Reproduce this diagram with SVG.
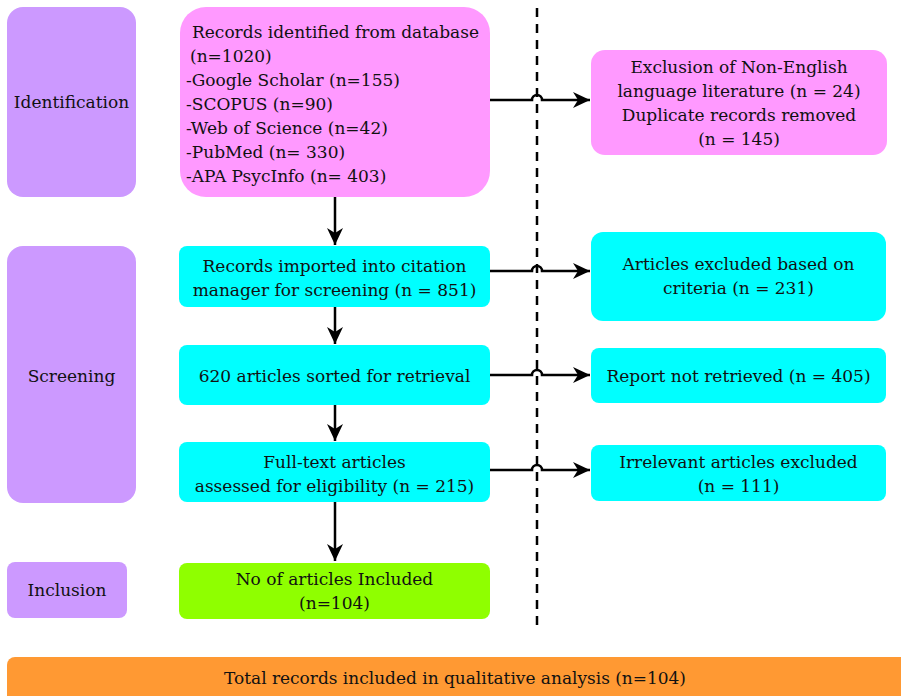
<svg xmlns="http://www.w3.org/2000/svg" width="901" height="696" viewBox="0 0 901 696">
  <defs>
    <marker id="arrow" markerUnits="userSpaceOnUse" markerWidth="18" markerHeight="16" refX="17" refY="8" orient="auto">
      <path d="M0,0 L17,8 L0,16 L5,8 Z" fill="#000"/>
    </marker>
    <style>
      text { font-family: "DejaVu Serif", "Liberation Serif", serif; font-size: 17px; fill: #111; }
      .c { text-anchor: middle; }
      .stage { fill: #CC99FF; }
      .pink { fill: #FF99FF; }
      .cyan { fill: #00FFFF; }
      .green { fill: #8FFF00; }
      .orange { fill: #FF9933; }
      .flow { fill: none; stroke: #000; stroke-width: 2.5; marker-end: url(#arrow); }
      .divider { fill: none; stroke: #000; stroke-width: 2.5; stroke-dasharray: 9 7; }
    </style>
  </defs>

  <rect width="901" height="696" fill="#fff"/>

  <!-- stage labels -->
  <g id="stage-identification">
    <rect class="stage" x="7" y="7" width="129" height="190" rx="16"/>
    <text class="c" x="71.5" y="108">Identification</text>
  </g>
  <g id="stage-screening">
    <rect class="stage" x="7" y="246" width="129" height="257" rx="16"/>
    <text class="c" x="71.5" y="382">Screening</text>
  </g>
  <g id="stage-inclusion">
    <rect class="stage" x="7" y="562" width="120" height="56" rx="8"/>
    <text class="c" x="67" y="596">Inclusion</text>
  </g>

  <!-- main flow -->
  <g id="records-identified">
    <rect class="pink" x="180" y="7" width="310" height="190" rx="26"/>
    <text x="192" y="38">Records identified from database</text>
    <text x="190" y="62">(n=1020)</text>
    <text x="186" y="86">-Google Scholar (n=155)</text>
    <text x="186" y="110">-SCOPUS (n=90)</text>
    <text x="186" y="134">-Web of Science (n=42)</text>
    <text x="186" y="158">-PubMed (n= 330)</text>
    <text x="186" y="182">-APA PsycInfo (n= 403)</text>
  </g>
  <g id="records-imported">
    <rect class="cyan" x="179" y="246" width="311" height="61" rx="8"/>
    <text class="c" x="334.5" y="272">Records imported into citation</text>
    <text class="c" x="334.5" y="296">manager for screening (n = 851)</text>
  </g>
  <g id="sorted-for-retrieval">
    <rect class="cyan" x="179" y="345" width="311" height="60" rx="8"/>
    <text class="c" x="334.5" y="382">620 articles sorted for retrieval</text>
  </g>
  <g id="full-text-assessed">
    <rect class="cyan" x="179" y="442" width="311" height="60" rx="8"/>
    <text class="c" x="334.5" y="468">Full-text articles</text>
    <text class="c" x="334.5" y="492">assessed for eligibility (n = 215)</text>
  </g>
  <g id="articles-included">
    <rect class="green" x="179" y="563" width="311" height="56" rx="8"/>
    <text class="c" x="334.5" y="585">No of articles Included</text>
    <text class="c" x="334.5" y="609">(n=104)</text>
  </g>

  <!-- exclusions -->
  <g id="excluded-language-duplicates">
    <rect class="pink" x="591" y="50" width="296" height="105" rx="14"/>
    <text class="c" x="739" y="73">Exclusion of Non-English</text>
    <text class="c" x="739" y="97">language literature (n = 24)</text>
    <text class="c" x="739" y="121">Duplicate records removed</text>
    <text class="c" x="739" y="145">(n = 145)</text>
  </g>
  <g id="excluded-criteria">
    <rect class="cyan" x="591" y="232" width="295" height="89" rx="12"/>
    <text class="c" x="738.5" y="270">Articles excluded based on</text>
    <text class="c" x="738.5" y="294">criteria (n = 231)</text>
  </g>
  <g id="not-retrieved">
    <rect class="cyan" x="591" y="348" width="295" height="55" rx="8"/>
    <text class="c" x="738.5" y="382">Report not retrieved (n = 405)</text>
  </g>
  <g id="irrelevant-excluded">
    <rect class="cyan" x="591" y="445" width="295" height="56" rx="8"/>
    <text class="c" x="738.5" y="468">Irrelevant articles excluded</text>
    <text class="c" x="738.5" y="492">(n = 111)</text>
  </g>

  <!-- summary bar -->
  <g id="total-included">
    <rect class="orange" x="7" y="657" width="910" height="60" rx="8"/>
    <text class="c" x="455" y="684" textLength="462" lengthAdjust="spacingAndGlyphs">Total records included in qualitative analysis (n=104)</text>
  </g>

  <!-- connectors -->
  <g id="connectors">
    <path class="divider" d="M537,8 V625"/>
    <path class="flow" d="M335,197 V245"/>
    <path class="flow" d="M335,307 V344"/>
    <path class="flow" d="M335,405 V441"/>
    <path class="flow" d="M335,502 V561"/>
    <path class="flow" d="M490,100 H532 A5,5 0 0 1 542,100 H590"/>
    <path class="flow" d="M490,271 H532 A5,5 0 0 1 542,271 H590"/>
    <path class="flow" d="M490,375 H532 A5,5 0 0 1 542,375 H590"/>
    <path class="flow" d="M490,470 H532 A5,5 0 0 1 542,470 H590"/>
  </g>
</svg>
